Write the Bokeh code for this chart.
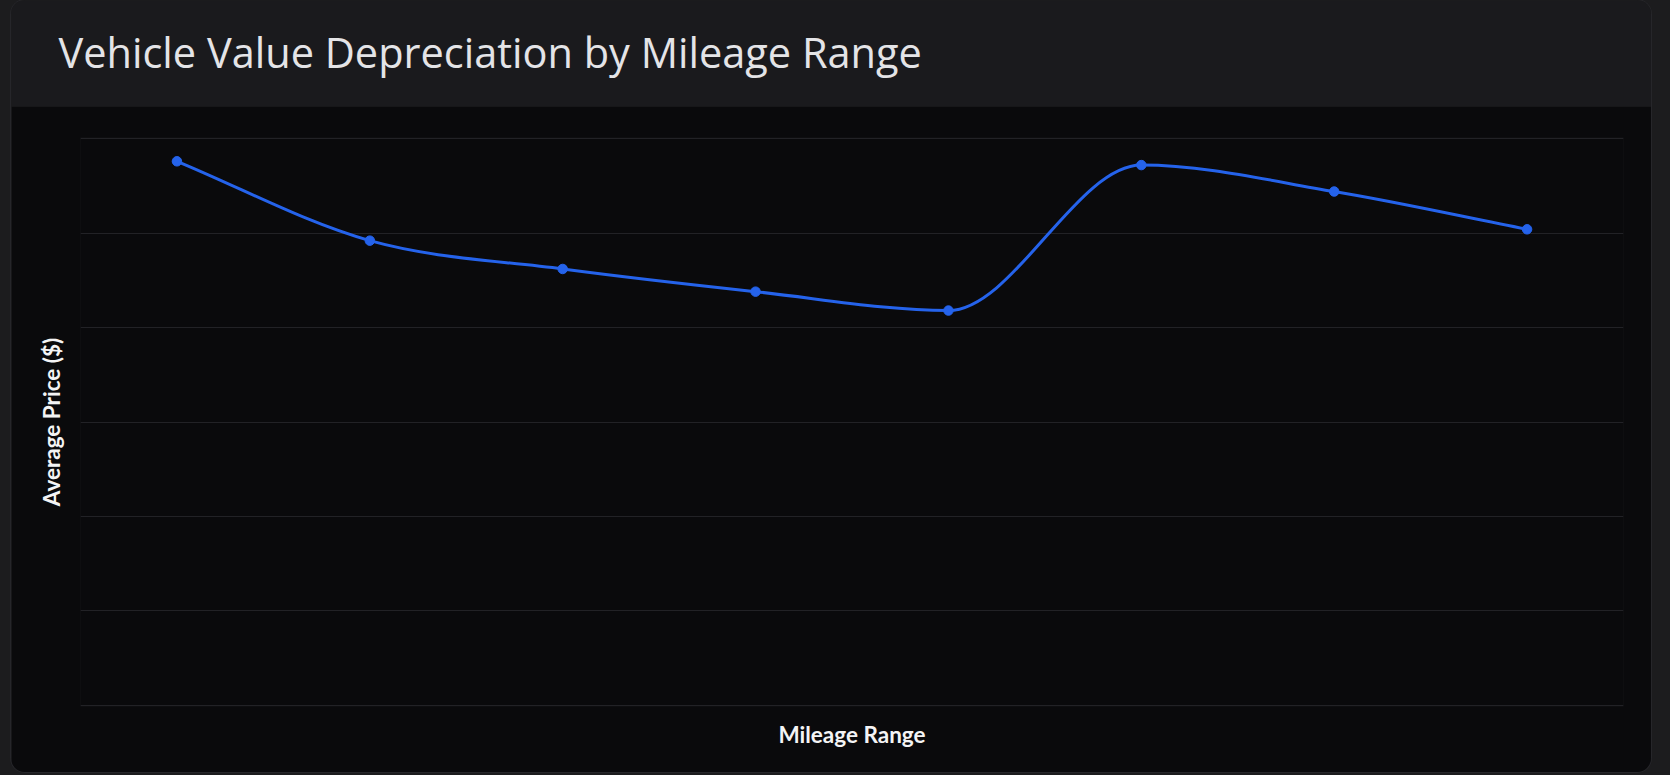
import math
from bokeh.plotting import figure
from bokeh.layouts import column
from bokeh.models import (ColumnDataSource, Range1d, FixedTicker, SingleIntervalTicker,
                          Label, GlobalInlineStyleSheet)
from bokeh.core.validation import silence
from bokeh.core.validation.warnings import MISSING_RENDERERS
from bokeh.embed import file_html
from bokeh.resources import INLINE

silence(MISSING_RENDERERS, True)

# ---------------- data ----------------
chart_title = "Vehicle Value Depreciation by Mileage Range"
x_title = "Mileage Range"
y_title = "Average Price ($)"
mileage_ranges = ["0-10k", "10k-20k", "20k-30k", "30k-40k",
                  "40k-50k", "50k-60k", "60k-70k", "70k+"]
avg_price = [28800, 24600, 23100, 21900, 20900, 28600, 27200, 25200]
y_max = 30000
y_step = 5000

# ---------------- style ----------------
PAGE_BG = "#1c1c1e"
HEADER_BG = "#1a1a1d"
CARD_BG = "#0a0a0c"
GRID = "#222226"
LINE = "#2563eb"
TITLE_COLOR = "#e4e4e7"
LABEL_COLOR = "#f4f4f5"

n = len(mileage_ranges)
xs = [i + 0.5 for i in range(n)]   # category centres on the axis
ys = list(avg_price)


def monotone_segments(x, y):
    """Chart.js 'monotone' cubic interpolation -> bezier control points."""
    m = len(x)
    delta = [(y[i + 1] - y[i]) / (x[i + 1] - x[i]) for i in range(m - 1)]
    tang = [0.0] * m
    for i in range(m):
        if i == 0:
            tang[i] = delta[0]
        elif i == m - 1:
            tang[i] = delta[m - 2]
        else:
            a, b = delta[i - 1], delta[i]
            if (a > 0) - (a < 0) != (b > 0) - (b < 0):
                tang[i] = 0.0
            else:
                tang[i] = (a + b) / 2
    for i in range(m - 1):
        if abs(delta[i]) < 1e-12:
            tang[i] = tang[i + 1] = 0.0
            continue
        al = tang[i] / delta[i]
        be = tang[i + 1] / delta[i]
        sq = al * al + be * be
        if sq <= 9:
            continue
        tau = 3 / math.sqrt(sq)
        tang[i] = al * tau * delta[i]
        tang[i + 1] = be * tau * delta[i]
    seg = dict(x0=[], y0=[], x1=[], y1=[], cx0=[], cy0=[], cx1=[], cy1=[])
    for i in range(m - 1):
        dx = (x[i + 1] - x[i]) / 3
        seg["x0"].append(x[i]); seg["y0"].append(y[i])
        seg["x1"].append(x[i + 1]); seg["y1"].append(y[i + 1])
        seg["cx0"].append(x[i] + dx); seg["cy0"].append(y[i] + tang[i] * dx)
        seg["cx1"].append(x[i + 1] - dx); seg["cy1"].append(y[i + 1] - tang[i + 1] * dx)
    return seg


W = 1640
HEADER_H = 106
MAIN_H = 666

# ---------------- header ----------------
h = figure(width=W, height=HEADER_H, x_range=Range1d(0, 1), y_range=Range1d(0, 1),
           x_axis_location=None, y_axis_location=None, toolbar_location=None,
           output_backend="svg", min_border=0, frame_align=False,
           background_fill_color=HEADER_BG, border_fill_color=HEADER_BG,
           outline_line_color=None)
for g in h.grid:
    g.visible = False
h.add_layout(Label(x=47, y=55, x_units="screen", y_units="screen", text=chart_title,
                   text_font="Open Sans", text_font_size="41.5px",
                   text_color=TITLE_COLOR, text_align="left",
                   text_baseline="alphabetic"))

# ---------------- main chart ----------------
pad = y_max / 500  # keeps the edge grid lines fully inside the frame
p = figure(width=W, height=MAIN_H, x_range=Range1d(0, n), y_range=Range1d(-pad, y_max + pad),
           toolbar_location=None, output_backend="svg", frame_align=False,
           min_border_left=69, min_border_right=28, min_border_top=31, min_border_bottom=66,
           background_fill_color=CARD_BG, border_fill_color=CARD_BG,
           outline_line_color=None)

for ax in (p.xaxis[0], p.yaxis[0]):
    ax.ticker = FixedTicker(ticks=[])
    ax.axis_line_color = None
    ax.major_tick_line_color = None
    ax.minor_tick_line_color = None
    ax.major_tick_out = 0
    ax.major_tick_in = 0
    ax.major_label_standoff = 0
    ax.axis_label_text_font = "Lato"
    ax.axis_label_text_font_size = "22.5px"
    ax.axis_label_text_font_style = "bold"
    ax.axis_label_text_color = LABEL_COLOR
p.xaxis.axis_label = x_title
p.yaxis.axis_label = y_title
p.xaxis.axis_label_standoff = 14
p.yaxis.axis_label_standoff = 16

p.xgrid.visible = False
p.ygrid.ticker = SingleIntervalTicker(interval=y_step)
p.ygrid.grid_line_color = GRID
p.ygrid.grid_line_width = 1

seg_src = ColumnDataSource(monotone_segments(xs, ys))
p.bezier(x0="x0", y0="y0", x1="x1", y1="y1", cx0="cx0", cy0="cy0",
         cx1="cx1", cy1="cy1", source=seg_src, line_color=LINE, line_width=3)

pt_src = ColumnDataSource(dict(x=xs, y=ys, label=mileage_ranges))
p.scatter("x", "y", source=pt_src, size=9.5, fill_color=LINE, line_color=LINE, line_width=1)

layout = column(h, p, spacing=0, margin=(0, 0, 0, 11),
                styles={"border-radius": "14px", "overflow": "hidden",
                        "box-shadow": "0 0 0 1px #26262a"},
                stylesheets=[GlobalInlineStyleSheet(css=f"body {{ background-color: {PAGE_BG}; }}")])

open("out.html", "w").write(file_html(layout, INLINE, title=chart_title))
